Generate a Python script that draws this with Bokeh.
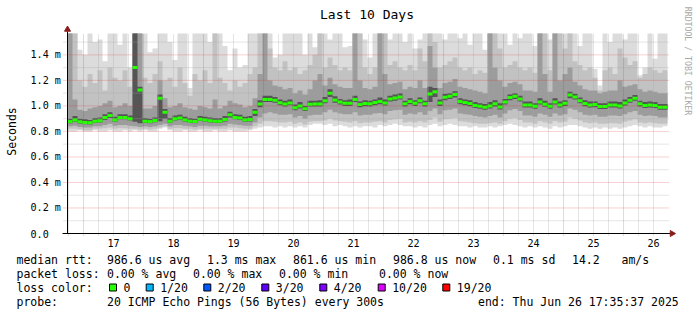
import math
import numpy as np
from bokeh.plotting import figure
from bokeh.models import Label, BoxAnnotation, Range1d
from bokeh.core.properties import value
from bokeh.embed import file_html
from bokeh.resources import INLINE

# ---------------- data ----------------
# time axis: hours since 2025-06-16 00:00 ; values in milliseconds
T_START = 17 + 35 / 60 + 37 / 3600      # graph start (end - 10 days)
STEP_H = 2.0                             # one value per 2 hours

median_ms = [
    0.878, 0.890, 0.875, 0.870, 0.867, 0.880, 0.883, 0.910, 0.925, 0.890,
    0.910, 0.910, 0.900, 1.300, 1.125, 0.880, 0.878, 0.886, 1.060, 0.950,
    0.880, 0.900, 0.905, 0.890, 0.880, 0.878, 0.896, 0.890, 0.883, 0.880,
    0.880, 0.893, 0.930, 0.910, 0.905, 0.890, 0.893, 0.950, 1.015, 1.050,
    1.050, 1.045, 1.025, 1.015, 1.023, 0.985, 1.000, 0.977, 1.013, 1.015,
    1.015, 1.040, 1.100, 1.047, 1.030, 1.020, 1.020, 1.050, 1.010, 1.018,
    1.016, 1.026, 1.034, 1.023, 1.055, 1.062, 1.070, 1.016, 1.034, 1.020,
    1.040, 1.016, 1.093, 1.110, 1.023, 1.068, 1.075, 1.090, 1.034, 1.026,
    1.018, 1.003, 0.997, 0.990, 1.000, 1.016, 0.992, 1.030, 1.065, 1.075,
    1.055, 1.008, 1.008, 0.997, 1.030, 1.013, 0.997, 1.030, 1.008, 1.020,
    1.085, 1.070, 1.040, 1.018, 1.008, 1.010, 0.995, 0.995, 1.008, 1.008,
    1.000, 1.023, 1.044, 1.060, 1.016, 1.003, 1.008, 1.003, 0.990, 0.990,
]

# smoke envelopes (sorted ping levels), outermost to innermost
ping_min = [
    0.80, 0.80, 0.81, 0.80, 0.80, 0.81, 0.80, 0.80, 0.81, 0.80,
    0.80, 0.81, 0.80, 0.81, 0.80, 0.81, 0.80, 0.80, 0.82, 0.83,
    0.81, 0.80, 0.80, 0.81, 0.80, 0.80, 0.81, 0.80, 0.80, 0.81,
    0.80, 0.80, 0.81, 0.80, 0.80, 0.80, 0.81, 0.82, 0.83, 0.84,
    0.84, 0.83, 0.84, 0.83, 0.84, 0.83, 0.84, 0.83, 0.85, 0.86,
    0.86, 0.85, 0.86, 0.84, 0.85, 0.84, 0.83, 0.84, 0.83, 0.84,
    0.84, 0.83, 0.85, 0.84, 0.85, 0.86, 0.85, 0.84, 0.84, 0.83,
    0.84, 0.83, 0.85, 0.86, 0.84, 0.85, 0.86, 0.85, 0.84, 0.84,
    0.83, 0.84, 0.83, 0.83, 0.84, 0.83, 0.84, 0.85, 0.86, 0.85,
    0.84, 0.83, 0.84, 0.83, 0.84, 0.83, 0.82, 0.84, 0.83, 0.84,
    0.85, 0.85, 0.84, 0.83, 0.82, 0.83, 0.82, 0.83, 0.82, 0.83,
    0.82, 0.83, 0.84, 0.85, 0.84, 0.83, 0.84, 0.83, 0.83, 0.84,
]
ping_lo2 = [
    0.82, 0.82, 0.815, 0.81, 0.81, 0.82, 0.82, 0.825, 0.83, 0.82,
    0.825, 0.825, 0.82, 0.82, 0.815, 0.82, 0.815, 0.82, 0.83, 0.84,
    0.82, 0.825, 0.825, 0.82, 0.82, 0.815, 0.82, 0.82, 0.82, 0.82,
    0.82, 0.82, 0.83, 0.83, 0.825, 0.82, 0.82, 0.84, 0.86, 0.88,
    0.88, 0.875, 0.87, 0.87, 0.875, 0.86, 0.87, 0.855, 0.875, 0.88,
    0.88, 0.885, 0.90, 0.885, 0.88, 0.875, 0.87, 0.88, 0.865, 0.87,
    0.87, 0.875, 0.88, 0.87, 0.89, 0.895, 0.90, 0.87, 0.875, 0.87,
    0.88, 0.87, 0.89, 0.91, 0.875, 0.895, 0.90, 0.905, 0.88, 0.875,
    0.87, 0.865, 0.86, 0.86, 0.865, 0.87, 0.86, 0.88, 0.90, 0.905,
    0.89, 0.87, 0.87, 0.86, 0.88, 0.87, 0.86, 0.88, 0.87, 0.875,
    0.91, 0.90, 0.885, 0.87, 0.865, 0.87, 0.86, 0.86, 0.865, 0.865,
    0.86, 0.875, 0.885, 0.895, 0.87, 0.865, 0.87, 0.865, 0.86, 0.86,
]
ping_lo3 = [
    0.84, 0.845, 0.835, 0.83, 0.83, 0.84, 0.84, 0.85, 0.86, 0.845,
    0.85, 0.85, 0.845, 0.84, 0.835, 0.84, 0.835, 0.84, 0.85, 0.86,
    0.84, 0.85, 0.85, 0.845, 0.84, 0.835, 0.845, 0.845, 0.84, 0.84,
    0.84, 0.845, 0.86, 0.855, 0.85, 0.845, 0.845, 0.87, 0.91, 0.94,
    0.95, 0.94, 0.93, 0.93, 0.935, 0.91, 0.92, 0.90, 0.925, 0.93,
    0.93, 0.95, 0.97, 0.95, 0.94, 0.935, 0.935, 0.95, 0.925, 0.93,
    0.93, 0.94, 0.945, 0.935, 0.96, 0.965, 0.97, 0.93, 0.94, 0.935,
    0.95, 0.93, 0.96, 0.98, 0.935, 0.965, 0.97, 0.98, 0.94, 0.935,
    0.93, 0.92, 0.915, 0.91, 0.92, 0.93, 0.91, 0.94, 0.965, 0.975,
    0.96, 0.925, 0.925, 0.915, 0.94, 0.93, 0.915, 0.94, 0.925, 0.935,
    0.98, 0.97, 0.95, 0.93, 0.925, 0.93, 0.915, 0.915, 0.925, 0.925,
    0.92, 0.935, 0.95, 0.96, 0.93, 0.92, 0.925, 0.92, 0.91, 0.91,
]
ping_lo4 = [
    0.865, 0.875, 0.862, 0.857, 0.855, 0.866, 0.87, 0.89, 0.905, 0.875,
    0.895, 0.895, 0.885, 0.875, 0.865, 0.866, 0.865, 0.872, 0.88, 0.90,
    0.866, 0.885, 0.89, 0.876, 0.866, 0.865, 0.882, 0.876, 0.87, 0.866,
    0.866, 0.878, 0.91, 0.895, 0.89, 0.876, 0.878, 0.92, 0.99, 1.03,
    1.03, 1.025, 1.005, 0.995, 1.005, 0.965, 0.98, 0.96, 0.995, 0.995,
    0.995, 1.02, 1.07, 1.025, 1.01, 1.0, 1.0, 1.03, 0.99, 0.998,
    0.996, 1.006, 1.012, 1.003, 1.035, 1.04, 1.05, 0.995, 1.012, 1.0,
    1.02, 0.995, 1.03, 1.07, 1.0, 1.045, 1.055, 1.065, 1.012, 1.005,
    0.998, 0.983, 0.977, 0.97, 0.98, 0.996, 0.972, 1.01, 1.045, 1.055,
    1.035, 0.988, 0.988, 0.977, 1.01, 0.993, 0.977, 1.01, 0.988, 1.0,
    1.06, 1.05, 1.02, 0.998, 0.988, 0.99, 0.975, 0.975, 0.988, 0.988,
    0.98, 1.003, 1.024, 1.04, 0.996, 0.983, 0.988, 0.983, 0.97, 0.97,
]
ping_hi4 = [
    0.90, 0.92, 0.90, 0.895, 0.89, 0.905, 0.91, 0.935, 0.95, 0.915,
    0.935, 0.935, 0.925, 1.60, 1.15, 0.905, 0.90, 0.91, 1.09, 0.975,
    0.905, 0.925, 0.93, 0.915, 0.905, 0.90, 0.92, 0.915, 0.91, 0.905,
    0.905, 0.92, 0.955, 0.935, 0.93, 0.915, 0.92, 0.975, 1.045, 1.08,
    1.08, 1.07, 1.05, 1.04, 1.05, 1.01, 1.03, 1.00, 1.04, 1.04,
    1.045, 1.07, 1.13, 1.075, 1.055, 1.045, 1.05, 1.08, 1.035, 1.045,
    1.04, 1.05, 1.065, 1.05, 1.08, 1.09, 1.10, 1.04, 1.06, 1.045,
    1.065, 1.04, 1.15, 1.14, 1.05, 1.095, 1.10, 1.115, 1.06, 1.05,
    1.045, 1.03, 1.02, 1.015, 1.03, 1.045, 1.02, 1.055, 1.09, 1.10,
    1.08, 1.035, 1.035, 1.02, 1.06, 1.04, 1.02, 1.06, 1.035, 1.045,
    1.11, 1.095, 1.065, 1.045, 1.035, 1.035, 1.02, 1.02, 1.035, 1.035,
    1.03, 1.05, 1.07, 1.085, 1.04, 1.03, 1.035, 1.03, 1.015, 1.015,
]
ping_hi3 = [
    1.60, 1.05, 0.97, 0.96, 0.98, 0.99, 1.00, 1.02, 1.04, 0.99,
    1.00, 1.02, 1.00, 1.60, 1.60, 0.98, 0.98, 1.00, 1.20, 1.06,
    0.99, 1.00, 1.02, 0.99, 0.98, 0.97, 1.00, 0.99, 0.98, 1.05,
    0.98, 1.00, 1.04, 1.02, 1.01, 0.99, 1.00, 1.06, 1.25, 1.60,
    1.20, 1.16, 1.15, 1.13, 1.14, 1.10, 1.12, 1.09, 1.13, 1.20,
    1.25, 1.16, 1.22, 1.17, 1.15, 1.14, 1.14, 1.60, 1.20, 1.14,
    1.13, 1.15, 1.60, 1.25, 1.17, 1.18, 1.19, 1.13, 1.15, 1.14,
    1.20, 1.14, 1.47, 1.30, 1.14, 1.18, 1.19, 1.21, 1.15, 1.14,
    1.13, 1.12, 1.11, 1.10, 1.60, 1.30, 1.20, 1.15, 1.18, 1.19,
    1.17, 1.12, 1.12, 1.11, 1.60, 1.25, 1.11, 1.60, 1.20, 1.25,
    1.30, 1.19, 1.16, 1.13, 1.12, 1.12, 1.10, 1.11, 1.12, 1.12,
    1.20, 1.15, 1.16, 1.17, 1.13, 1.11, 1.12, 1.11, 1.10, 1.10,
]
ping_hi2 = [
    1.60, 1.60, 1.20, 1.15, 1.25, 1.18, 1.28, 1.12, 1.30, 1.22,
    1.20, 1.28, 1.15, 1.60, 1.60, 1.22, 1.18, 1.25, 1.35, 1.20,
    1.22, 1.15, 1.30, 1.18, 1.08, 1.25, 1.20, 1.28, 1.18, 1.60,
    1.22, 1.18, 1.12, 1.20, 1.15, 1.18, 1.25, 1.30, 1.60, 1.60,
    1.45, 1.30, 1.28, 1.35, 1.28, 1.30, 1.25, 1.28, 1.32, 1.40,
    1.60, 1.30, 1.38, 1.32, 1.28, 1.30, 1.28, 1.60, 1.60, 1.30,
    1.25, 1.30, 1.60, 1.60, 1.32, 1.35, 1.30, 1.28, 1.32, 1.28,
    1.45, 1.35, 1.60, 1.50, 1.30, 1.32, 1.35, 1.38, 1.30, 1.28,
    1.30, 1.25, 1.28, 1.26, 1.60, 1.60, 1.45, 1.30, 1.32, 1.35,
    1.30, 1.28, 1.30, 1.26, 1.60, 1.60, 1.28, 1.60, 1.60, 1.45,
    1.60, 1.35, 1.32, 1.28, 1.30, 1.22, 1.12, 1.28, 1.30, 1.25,
    1.45, 1.38, 1.32, 1.35, 1.22, 1.25, 1.30, 1.28, 1.26, 1.28,
]
ping_max = [
    1.60, 1.60, 1.44, 1.40, 1.60, 1.50, 1.52, 1.35, 1.60, 1.60,
    1.48, 1.60, 1.30, 1.60, 1.60, 1.60, 1.42, 1.45, 1.60, 1.60,
    1.50, 1.36, 1.60, 1.60, 1.14, 1.60, 1.60, 1.60, 1.50, 1.60,
    1.60, 1.47, 1.28, 1.45, 1.30, 1.32, 1.60, 1.60, 1.60, 1.60,
    1.60, 1.38, 1.40, 1.60, 1.60, 1.60, 1.60, 1.40, 1.60, 1.46,
    1.60, 1.60, 1.52, 1.60, 1.60, 1.46, 1.47, 1.60, 1.60, 1.52,
    1.38, 1.60, 1.60, 1.60, 1.52, 1.60, 1.60, 1.50, 1.60, 1.45,
    1.52, 1.60, 1.60, 1.60, 1.60, 1.52, 1.60, 1.60, 1.53, 1.60,
    1.48, 1.60, 1.60, 1.44, 1.60, 1.60, 1.60, 1.60, 1.48, 1.60,
    1.53, 1.60, 1.60, 1.47, 1.60, 1.60, 1.52, 1.60, 1.60, 1.60,
    1.60, 1.60, 1.47, 1.60, 1.60, 1.29, 1.16, 1.60, 1.50, 1.60,
    1.60, 1.52, 1.60, 1.60, 1.24, 1.30, 1.60, 1.37, 1.60, 1.60,
]

day_ticks_h = [36, 60, 84, 108, 132, 156, 180, 204, 228, 252]
day_labels = ["17", "18", "19", "20", "21", "22", "23", "24", "25", "26"]
y_ticks = [0.0, 0.2, 0.4, 0.6, 0.8, 1.0, 1.2, 1.4]
y_labels = ["0.0", "0.2 m", "0.4 m", "0.6 m", "0.8 m", "1.0 m", "1.2 m", "1.4 m"]

rtt_stats = ["986.6 us avg", "1.3 ms max", "861.6 us min", "986.8 us now",
             "0.1 ms sd", "14.2", "am/s"]
loss_stats = ["0.00 % avg", "0.00 % max", "0.00 % min", "0.00 % now"]
loss_names = ["0", "1/20", "2/20", "3/20", "4/20", "10/20", "19/20"]
loss_colors = ["#26ff00", "#00b8ff", "#0059ff", "#5e00ff", "#7e00ff", "#dd00ff", "#ff0000"]
probe_text = "20 ICMP Echo Pings (56 Bytes) every 300s"
end_text = "end: Thu Jun 26 17:35:37 2025"
title_text = "Last 10 Days"
unit_text = "Seconds"
watermark_text = "RRDTOOL / TOBI OETIKER"

# ---------------- layout ----------------
W, H = 697, 315
GX0, GY0, GYT = 67, 233, 33           # graph origin and top (px)
PXH, PXMS = 2.5, 127.6                # px per hour, px per ms
MONO = "DejaVu Sans Mono"


def hx(px):
    return T_START + (px - GX0) / PXH


def my(py):
    return (GY0 - py) / PXMS


Y_TOP = my(GYT)

# the frame covers the whole canvas so that every text can be drawn
p = figure(width=W, height=H, output_backend="svg", toolbar_location=None, title=None,
           x_range=Range1d(hx(0), hx(W)), y_range=Range1d(my(H), my(0)),
           x_axis_type=None, y_axis_type=None,
           min_border_left=0, min_border_right=0, min_border_top=0, min_border_bottom=0)
p.outline_line_color = None
p.background_fill_color = "white"
p.border_fill_color = "white"
p.grid.visible = False

# ---------------- smoke ----------------
n = len(median_ms)
edges = T_START + STEP_H * np.arange(n + 1)


def ext(a):
    a = np.minimum(np.asarray(a, dtype=float), Y_TOP)
    return np.append(a, a[-1])


bands = [
    (ping_min, ping_max, "#dcdcdc"),
    (ping_lo2, ping_hi2, "#c2c2c2"),
    (ping_lo3, ping_hi3, "#9c9c9c"),
    (ping_lo4, ping_hi4, "#555555"),
]
for lo, hi, col in bands:
    p.varea_step(x=edges, y1=ext(lo), y2=ext(hi), step_mode="after",
                 fill_color=col, fill_alpha=1.0)

# ---------------- grid (drawn over the smoke) ----------------
minor_x = [h for h in range(18, 258, 6) if h % 24]
major_x = list(range(24, 241, 24))
minor_y = [0.1, 0.3, 0.5, 0.7, 0.9, 1.1, 1.3, 1.5]
major_y = [0.2, 0.4, 0.6, 0.8, 1.0, 1.2, 1.4]
GRID_MINOR = dict(line_color="#a8a8a8", line_alpha=0.6, line_width=1, line_dash="1 1")
GRID_MAJOR = dict(line_color="#e03030", line_alpha=0.45, line_width=1, line_dash="1 1")
p.segment(x0=minor_x, y0=my(235), x1=minor_x, y1=Y_TOP, **GRID_MINOR)
p.segment(x0=hx(63), y0=minor_y, x1=hx(669), y1=minor_y, **GRID_MINOR)
p.segment(x0=major_x, y0=my(235), x1=major_x, y1=Y_TOP, **GRID_MAJOR)
p.segment(x0=hx(63), y0=major_y, x1=hx(669), y1=major_y, **GRID_MAJOR)

# ---------------- median ----------------
p.segment(x0=edges[:-1], x1=edges[1:], y0=median_ms, y1=median_ms,
          line_color=loss_colors[0], line_width=3)

# ---------------- axes lines + arrows ----------------
ARROW = "#8b1c1c"
p.segment(x0=[hx(62)], y0=[0], x1=[hx(670)], y1=[0], line_color="black", line_width=1)
p.segment(x0=[T_START], y0=[0], x1=[T_START], y1=[my(31)], line_color="black", line_width=1)
p.scatter(x=[T_START], y=[my(29)], marker="triangle", size=6,
          fill_color=ARROW, line_color=ARROW)
p.scatter(x=[hx(671.5)], y=[0], marker="triangle", size=6, angle=-math.pi / 2,
          fill_color=ARROW, line_color=ARROW)

# ---------------- tick labels ----------------
p.text(x=day_ticks_h, y=my(242), text=day_labels, text_font=value(MONO),
       text_font_size="10.1px", text_color="black", text_align="center",
       text_baseline="middle")
p.text(x=hx(30), y=y_ticks, text=y_labels, text_font=value(MONO),
       text_font_size="10.1px", text_color="black", text_align="left",
       text_baseline="middle")


# ---------------- texts ----------------
def txt(x, y, s, size="11.5px", color="black", align="left", angle=0.0):
    p.add_layout(Label(x=x, y=y, x_units="canvas", y_units="canvas", text=s,
                       text_font=MONO, text_font_size=size, text_color=color,
                       text_align=align, text_baseline="middle", angle=angle))


txt(366.5, 14, title_text, size="13px", align="center")
txt(11.5, 131, unit_text, align="center", angle=math.pi / 2)
txt(687, 60.5, watermark_text, size="8.2px", color="#a8a8a8", align="center",
    angle=-math.pi / 2)

ROWS = [259, 273, 287, 301]
txt(16, ROWS[0], "median rtt:")
for xs, s in zip([106.5, 206.5, 292.5, 392.5, 492.5, 571.5, 621], rtt_stats):
    txt(xs, ROWS[0], s)
txt(16, ROWS[1], "packet loss:")
for xs, s in zip([106.5, 192.5, 278.5, 378.5], loss_stats):
    txt(xs, ROWS[1], s)
txt(16, ROWS[2], "loss color:")
box_x = [109, 145.7, 203.3, 261.3, 319.3, 377.7, 442.3]
for bx, name, col in zip(box_x, loss_names, loss_colors):
    p.add_layout(BoxAnnotation(left=bx, right=bx + 7, top=ROWS[2] - 3.5, bottom=ROWS[2] + 3.5,
                               left_units="canvas", right_units="canvas",
                               top_units="canvas", bottom_units="canvas",
                               fill_color=col, fill_alpha=1.0,
                               line_color="black", line_width=1, line_alpha=1.0))
    txt(bx + 14, ROWS[2], name)
txt(16, ROWS[3], "probe:")
txt(106.5, ROWS[3], probe_text)
txt(477.5, ROWS[3], end_text)

open("out.html", "w").write(file_html(p, INLINE))
